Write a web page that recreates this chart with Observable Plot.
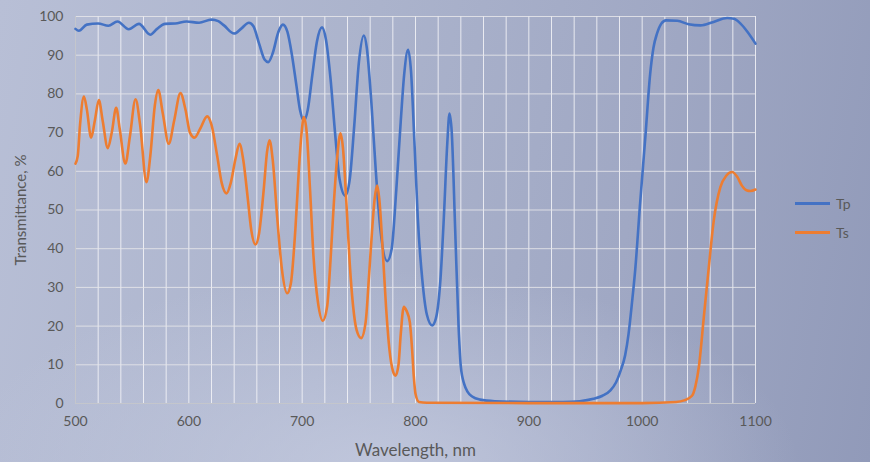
<!DOCTYPE html>
<html>
<head>
<meta charset="utf-8">
<script src="https://cdn.jsdelivr.net/npm/d3@7"></script>
<script src="https://cdn.jsdelivr.net/npm/@observablehq/plot@0.6"></script>
<style>
  html, body { margin: 0; padding: 0; }
  body {
    width: 870px; height: 462px; overflow: hidden; position: relative;
    background:
      radial-gradient(ellipse 420px 200px at 380px 470px, rgba(200,206,226,0.75), rgba(200,206,226,0) 100%),
      linear-gradient(100deg, #b8bfd6 0%, #abb3cc 40%, #a0a8c4 70%, #919ab9 100%);
    font-family: Lato, "Open Sans", sans-serif;
  }
  #chart { position: absolute; left: 0; top: 0; }
  .legend { position: absolute; left: 795px; font-size: 14px; color: #595959; }
  .legend .item { position: absolute; left: 0; white-space: nowrap; display: flex; align-items: center; }
  .legend .swatch { width: 35px; height: 3px; margin-right: 6px; }
</style>
</head>
<body>
<div id="chart"></div>
<div class="legend">
  <div class="item" style="top:195px"><span class="swatch" style="background:#4472c4"></span>Tp</div>
  <div class="item" style="top:224px"><span class="swatch" style="background:#ed7d31"></span>Ts</div>
</div>
<script>
// Tick labels
const xTicks = [500, 600, 700, 800, 900, 1000, 1100];
const yTicks = [0, 10, 20, 30, 40, 50, 60, 70, 80, 90, 100];
const xGrid = [500, 520, 540, 560, 580, 600, 620, 640, 660, 680, 700, 720, 740, 760, 780, 800,
  820, 840, 860, 880, 900, 920, 940, 960, 980, 1000, 1020, 1040, 1060, 1080, 1100];

// Tp series
const tpWl = [500, 503, 510, 520, 529, 537, 547, 556, 566, 572, 579, 588, 598, 609, 620, 626, 631, 640, 646, 653, 657, 662, 667, 670, 674, 679, 683, 687, 691, 695, 698, 701.5, 705, 709, 713, 717.5, 721, 725, 729, 733, 738, 742, 746, 750, 754.4, 757, 761, 765, 769, 775, 779, 783, 787, 790, 793.5, 796, 799, 802, 806, 810, 814.7, 818, 822, 825, 828, 830, 832, 835, 838, 840, 843, 846, 850, 857, 870, 900, 930, 945, 957, 965, 972, 977, 981, 985, 988, 991, 994, 998, 1003, 1007, 1010, 1013, 1017, 1021, 1031, 1041, 1051.5, 1063, 1075, 1081, 1087, 1093, 1100];
const tpVal = [96.8, 96.3, 97.9, 98.2, 97.6, 98.7, 96.7, 98.1, 95.3, 96.8, 98.1, 98.2, 98.7, 98.4, 99.2, 98.8, 97.7, 95.6, 96.8, 98.4, 97.5, 93, 88.8, 88.2, 90.5, 96, 97.9, 96, 90, 82, 76, 73.1, 76, 85, 93.5, 97.2, 94, 84, 70, 58, 53.7, 58, 72, 88, 95.1, 92, 78, 60, 45, 36.8, 40, 55, 73, 85, 91.4, 86, 68, 48, 32, 23, 20.2, 22, 32, 48, 67, 74.9, 70, 45, 20, 9.5, 5, 3, 1.8, 1, 0.6, 0.4, 0.4, 0.6, 1.2, 2, 3.4, 5.5, 8.5, 12.5, 18, 26, 35, 51, 69.6, 85, 92, 95.5, 98.2, 99, 98.9, 98, 97.7, 98.6, 99.6, 99.4, 98.1, 96, 93];

// Ts series
const tsWl = [500, 502, 504, 507.4, 510, 513.8, 517, 520.6, 524, 528.5, 532, 535.9, 539, 544, 548, 553, 557, 562.6, 566, 570, 573, 577, 582.3, 587, 592.6, 597, 601, 605, 610, 616.2, 620, 625, 629, 633.2, 637, 641, 644.7, 648, 652, 655, 658.8, 662, 666, 669, 671.2, 674, 678, 682, 686.8, 690, 694, 697, 699.5, 701.5, 704, 707, 710, 714, 718.2, 722, 725, 728, 731, 733.8, 736, 739, 742, 745, 748, 752, 756, 759, 762, 764, 766.2, 768, 771, 774, 777, 780, 782.4, 785, 787, 789.7, 792, 795, 797, 798.5, 800, 803, 810, 900, 1000, 1030, 1037, 1044, 1047, 1050, 1054.4, 1058.8, 1063.2, 1069, 1074, 1079.4, 1084, 1088, 1092, 1095.6, 1100];
const tsVal = [62, 64, 72, 79.3, 76, 68.7, 73, 78.4, 73, 66, 70, 76.4, 71, 62, 69, 78.6, 72, 57.2, 64, 77, 81, 75, 67.1, 73, 80.2, 76, 70, 68.7, 71, 74.2, 72, 64, 57, 54.3, 57, 63, 67.1, 63, 53, 45, 41.1, 44, 55, 65, 68, 63, 48, 35, 28.5, 31, 45, 60, 70, 74, 70, 55, 38, 26, 21.4, 25, 37, 52, 64, 69.8, 66, 52, 36, 25, 19, 16.9, 21, 33, 46, 53, 56.3, 53, 40, 25, 14, 8.5, 7.2, 10, 18, 25, 24, 21, 14, 7, 2.5, 0.4, 0.2, 0.1, 0.1, 0.4, 0.8, 2, 4.5, 9.4, 22.3, 35.2, 47.3, 55.9, 58.8, 59.8, 58.5, 56.3, 55.1, 54.9, 55.3];

const tp = tpWl.map((w, i) => ({wl: w, t: tpVal[i]}));
const ts = tsWl.map((w, i) => ({wl: w, t: tsVal[i]}));

const chart = Plot.plot({
  width: 870,
  height: 462,
  marginLeft: 75,
  marginRight: 115,
  marginTop: 16,
  marginBottom: 59,
  x: {domain: [500, 1100]},
  y: {domain: [0, 100]},
  style: {background: "transparent", fontFamily: "Lato, 'Open Sans', sans-serif", fontSize: "14px", color: "#595959", overflow: "visible"},
  marks: [
    Plot.gridX(xGrid, {stroke: "#f4f4f8", strokeOpacity: 0.85, strokeWidth: 1}),
    Plot.gridY(yTicks, {stroke: "#e6e6ea", strokeOpacity: 0.85, strokeWidth: 1}),
    Plot.ruleX([500], {stroke: "#c4c6cc", strokeWidth: 1}),
    Plot.ruleY([0], {stroke: "#c4c6cc", strokeWidth: 1}),
    Plot.axisX(xTicks, {tickSize: 0, tickPadding: 13, fontSize: 14, tickFormat: d => String(d), label: null}),
    Plot.axisX({ticks: [], tickSize: 0, fontSize: 17, label: "Wavelength, nm", labelAnchor: "center", labelArrow: "none", labelOffset: 52}),
    Plot.axisY(yTicks, {tickSize: 0, tickPadding: 12, fontSize: 14, label: null}),
    Plot.axisY({ticks: [], tickSize: 0, fontSize: 15, label: "Transmittance, %", labelAnchor: "center", labelArrow: "none", labelOffset: 60}),
    Plot.line(tp, {x: "wl", y: "t", stroke: "#4472c4", strokeWidth: 2.6, curve: "monotone-x"}),
    Plot.line(ts, {x: "wl", y: "t", stroke: "#ed7d31", strokeWidth: 2.6, curve: "monotone-x"})
  ]
});
document.getElementById("chart").appendChild(chart);
</script>
</body>
</html>
